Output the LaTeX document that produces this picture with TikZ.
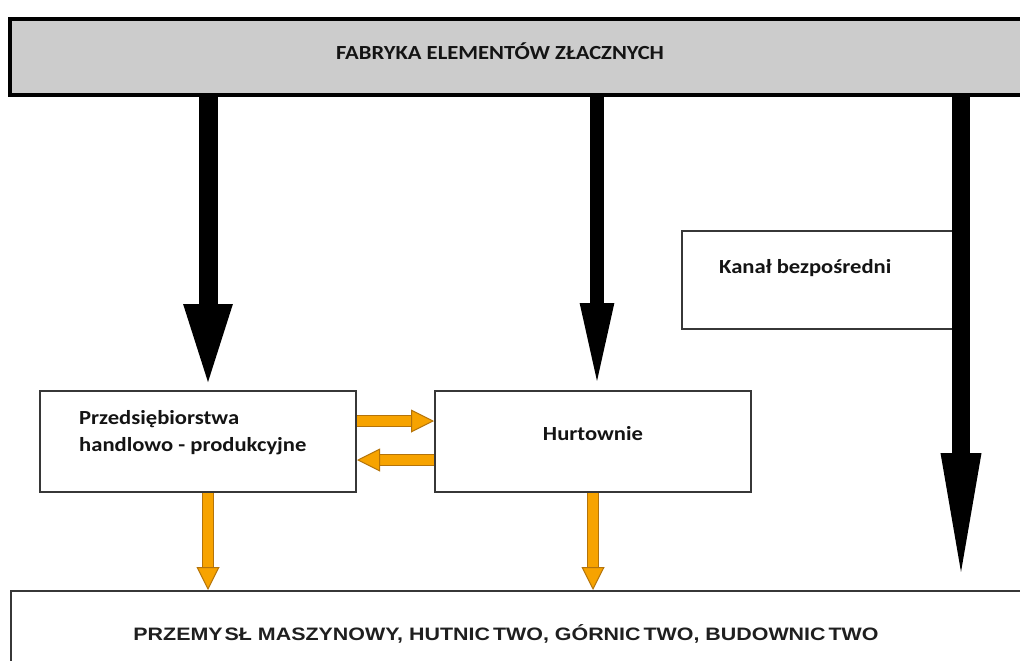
\documentclass[tikz,border=0pt]{standalone}
\usepackage{fontspec}
\setmainfont{Carlito}
\newfontfamily\widecal[FakeStretch=1.13]{Carlito}
\newfontfamily\widearial[FakeStretch=1.19]{Liberation Sans}
\usetikzlibrary{arrows.meta}
\definecolor{boxgrey}{RGB}{204,204,204}
\definecolor{arrorange}{RGB}{247,163,0}
\definecolor{arrdark}{RGB}{180,115,10}
\definecolor{boxline}{RGB}{55,55,55}
\begin{document}
\begin{tikzpicture}[x=1pt,y=-1pt,
  box/.style={draw=boxline, line width=2pt, fill=white, rectangle, inner sep=0pt, anchor=north west},
  lbl/.style={font=\widecal\bfseries\fontsize{20}{27}\selectfont, text=black!92, inner sep=0pt},
  blackarrow/.style n args={3}{draw=black, line width=#1pt, -{Triangle[width=#2pt, length=#3pt]}},
  orangearrow/.style={draw=arrorange, line width=10pt,
     preaction={draw=arrdark, line width=12pt, arrows=-, shorten >=18pt},
     -{Triangle[width=23pt, length=23pt, fill=arrorange, color=arrdark, line width=1pt]}}
]
\clip (0,0) rectangle (1020,661);
\fill[white] (0,0) rectangle (1020,661);

% boxes
\node[draw=black, line width=4pt, fill=boxgrey, rectangle, inner sep=0pt, anchor=north west,
      minimum width=1034pt, minimum height=76pt] (top) at (8,17) {};
\node[font=\widecal\bfseries\fontsize{20}{22}\selectfont, text=black!92, inner sep=0pt] (toptext) at (500,51) {FABRYKA ELEMENTÓW ZŁACZNYCH};

\node[box, minimum width=271pt, minimum height=98pt] (kanal) at (681,230) {};
\node[lbl, anchor=west] (kanaltext) at (719,268) {Kanał bezpośredni};

\node[box, minimum width=316pt, minimum height=101pt] (pbox) at (39,390) {};
\node[lbl, anchor=west, align=left] (ptext) at (79,433) {Przedsiębiorstwa\\handlowo - produkcyjne};

\node[box, minimum width=316pt, minimum height=101pt] (hbox) at (434,390) {};
\node[lbl] (htext) at (593,434) {Hurtownie};

\node[box, minimum width=1040pt, minimum height=120pt] (bottom) at (10,590) {};
\node[font=\widearial\bfseries\fontsize{18}{22}\selectfont, text=black!88, inner sep=0pt] (btext) at (506,634) {PRZEMY\kern2ptSŁ MASZYNOWY, HUTNIC\kern3ptTWO, GÓRNIC\kern3ptTWO, BUDOWNIC\kern3ptTWO};

% connector x positions
\coordinate (xa) at (208,0);
\coordinate (xb) at (597,0);
\coordinate (xc) at (961,0);
\coordinate (xd) at (208,0);
\coordinate (xe) at (593,0);
\coordinate (ya) at (0,421);
\coordinate (yb) at (0,460);

% black arrows
\draw[blackarrow={19}{43}{86}] (top.south -| xa) -- (pbox.north -| xa);
\draw[blackarrow={14}{30}{87}] (top.south -| xb) -- (hbox.north -| xb);
\draw[blackarrow={18}{35}{137}] (top.south -| xc) -- (bottom.north -| xc);

% orange arrows
\draw[orangearrow] (pbox.east |- ya) -- (hbox.west |- ya);
\draw[orangearrow] (hbox.west |- yb) -- (pbox.east |- yb);
\draw[orangearrow] (pbox.south -| xd) -- (bottom.north -| xd);
\draw[orangearrow] (hbox.south -| xe) -- (bottom.north -| xe);
\end{tikzpicture}
\end{document}
